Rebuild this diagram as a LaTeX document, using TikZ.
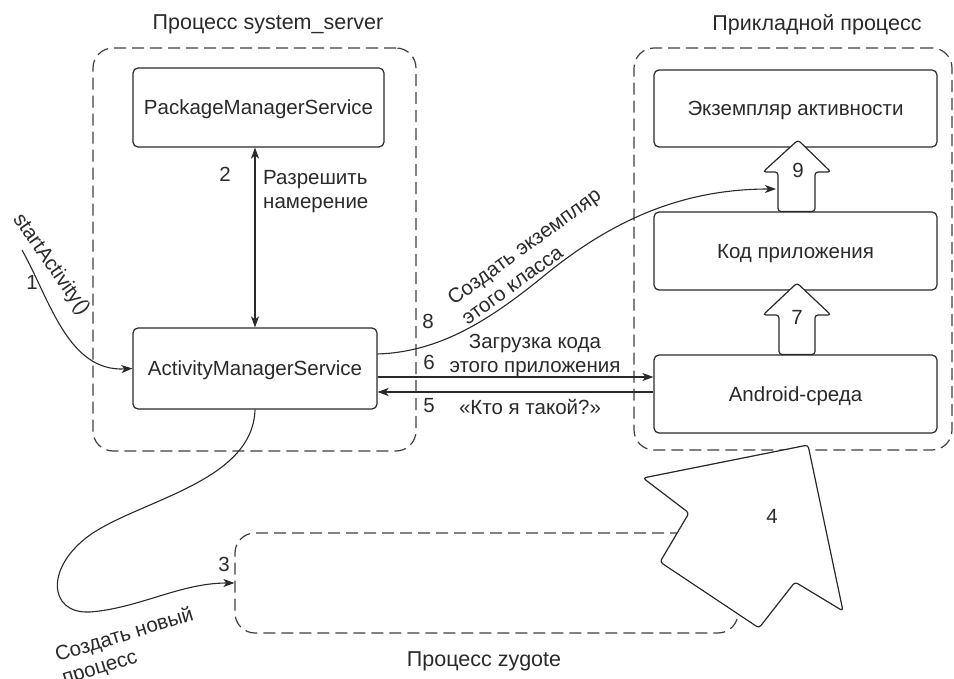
\documentclass[tikz,border=0pt]{standalone}
\usepackage{fontspec}
\setmainfont{Liberation Sans}
\usetikzlibrary{arrows.meta}
\definecolor{ink}{HTML}{2A2A2A}
\begin{document}
\begin{tikzpicture}[x=1pt,y=-1pt,
  font=\fontsize{20.5}{24}\selectfont,
  every node/.style={text=ink},
  box/.style={draw=ink, line width=1.2pt, rounded corners=5pt, minimum width=#1, minimum height=78pt, inner sep=0pt, text height=14.5pt, text depth=0pt},
  proc/.style={draw=ink!90, line width=1.2pt, dash pattern=on 12pt off 6pt, rounded corners=20pt, inner sep=0pt},
  conn/.style={draw=ink, line width=1.1pt},
  tipr/.style={-{Stealth[length=11pt,width=8pt,inset=3pt]}},
  tipl/.style={{Stealth[length=11pt,width=8pt,inset=3pt]}-},
  tipb/.style={{Stealth[length=11pt,width=8pt,inset=3pt]}-{Stealth[length=11pt,width=8pt,inset=3pt]}},
  blk/.style={draw=ink, fill=white, line width=1.2pt, rounded corners=3pt, line join=round},
  lbl/.style={inner sep=0pt, anchor=base},
  mlbl/.style={inner sep=0pt, anchor=center},
  ttl/.style={inner sep=0pt, anchor=base, font=\fontsize{21.5}{26}\selectfont},
]
\useasboundingbox (0,0) rectangle (954,679);
\fill[white] (0,0) rectangle (954,679);

% containers
\node[proc, minimum width=323pt, minimum height=403pt] (ss) at (254.5,249.5) {};
\node[proc, minimum width=318pt, minimum height=402pt] (app) at (793,249) {};
\node[proc, minimum width=503pt, minimum height=100pt] (zyg) at (486.5,583) {};

% titles
\node[ttl] (tss) at (268,30) {Процесс system\_server};
\node[ttl] (tapp) at (817,31) {Прикладной процесс};
\node[ttl] (tzyg) at (484,666) {Процесс zygote};

% boxes
\node[box=251pt, minimum height=79pt] (PMS) at (258.5,107.5) {PackageManagerService};
\node[box=244pt, minimum height=81pt] (AMS) at (255,368.5) {ActivityManagerService};
\node[box=283pt, minimum height=77pt] (EA) at (795.5,108.5) {Экземпляр активности};
\node[box=283pt] (KP) at (795.5,251) {Код приложения};
\node[box=283pt] (AS) at (795.5,394) {Android-среда};

% 2: resolve intent
\draw[conn, tipb] (AMS.north |- PMS.south) -- (AMS.north);
\node[lbl] (n2) at (225,182) {2};
\node[mlbl, anchor=west, align=left] (l2) at (263,192) {Разрешить\\намерение};

% 1: startActivity
\coordinate (s1) at (22,250);
\draw[conn, tipr] (s1) .. controls (50,300) and (68,372) .. (AMS.west);
\node[mlbl, rotate=-55] (l1) at (51,265) {startActivity()};
\node[lbl] (n1) at (32,290) {1};

% 3: create new process
\draw[conn, tipr] (AMS.south) .. controls (253,482) and (140,500) .. (90,535)
  .. controls (45,567) and (48,614) .. (90,612)
  .. controls (140,608) and (180,583) .. (zyg.west);
\node[lbl] (n3) at (224,571) {3};
\node[mlbl, rotate=17, align=left] (l3) at (128,647) {Создать новый\\процесс};

% 6 and 5
\coordinate (a6s) at ([yshift=-8.5pt]AMS.east);
\coordinate (a5s) at ([yshift=-23.5pt]AMS.east);
\coordinate (a8s) at ([yshift=14.5pt]AMS.east);
\draw[conn, tipr] (a6s) -- (a6s -| AS.west);
\draw[conn, tipl] (a5s) -- (a5s -| AS.west);
\node[lbl] (n6) at (429,370) {6};
\node[lbl] (n5) at (429,412) {5};
\node[mlbl, align=center] (l6) at (535,355) {Загрузка кода\\этого приложения};
\node[lbl] (l5) at (530,414) {«Кто я такой?»};

% 8
\coordinate (e8) at (776,189);
\draw[conn, tipr] (a8s) .. controls (440,352) and (490,320) .. (545,275)
  .. controls (610,222) and (680,189) .. (e8);
\node[lbl] (n8) at (428,329) {8};
\node[mlbl, rotate=36, align=left] (l8) at (531,256) {Создать экземпляр\\этого класса};

% block arrows
\draw[blk] (798,140) -- (831,172) -- (815,172) -- (815,211.5) -- (778,211.5) -- (778,172) -- (763,172) -- cycle;
\node[lbl] (n9) at (798,178) {9};
\draw[blk] (797,283) -- (831,315) -- (815,315) -- (815,354.5) -- (779,354.5) -- (779,315) -- (763,315) -- cycle;
\node[lbl] (n7) at (797,325) {7};
\draw[blk] (808,445) -- (843,611) -- (795,582) -- (759,628) -- (660,562) -- (689,513) -- (643,478) -- cycle;
\node[lbl] (n4) at (772,523) {4};
\end{tikzpicture}
\end{document}
